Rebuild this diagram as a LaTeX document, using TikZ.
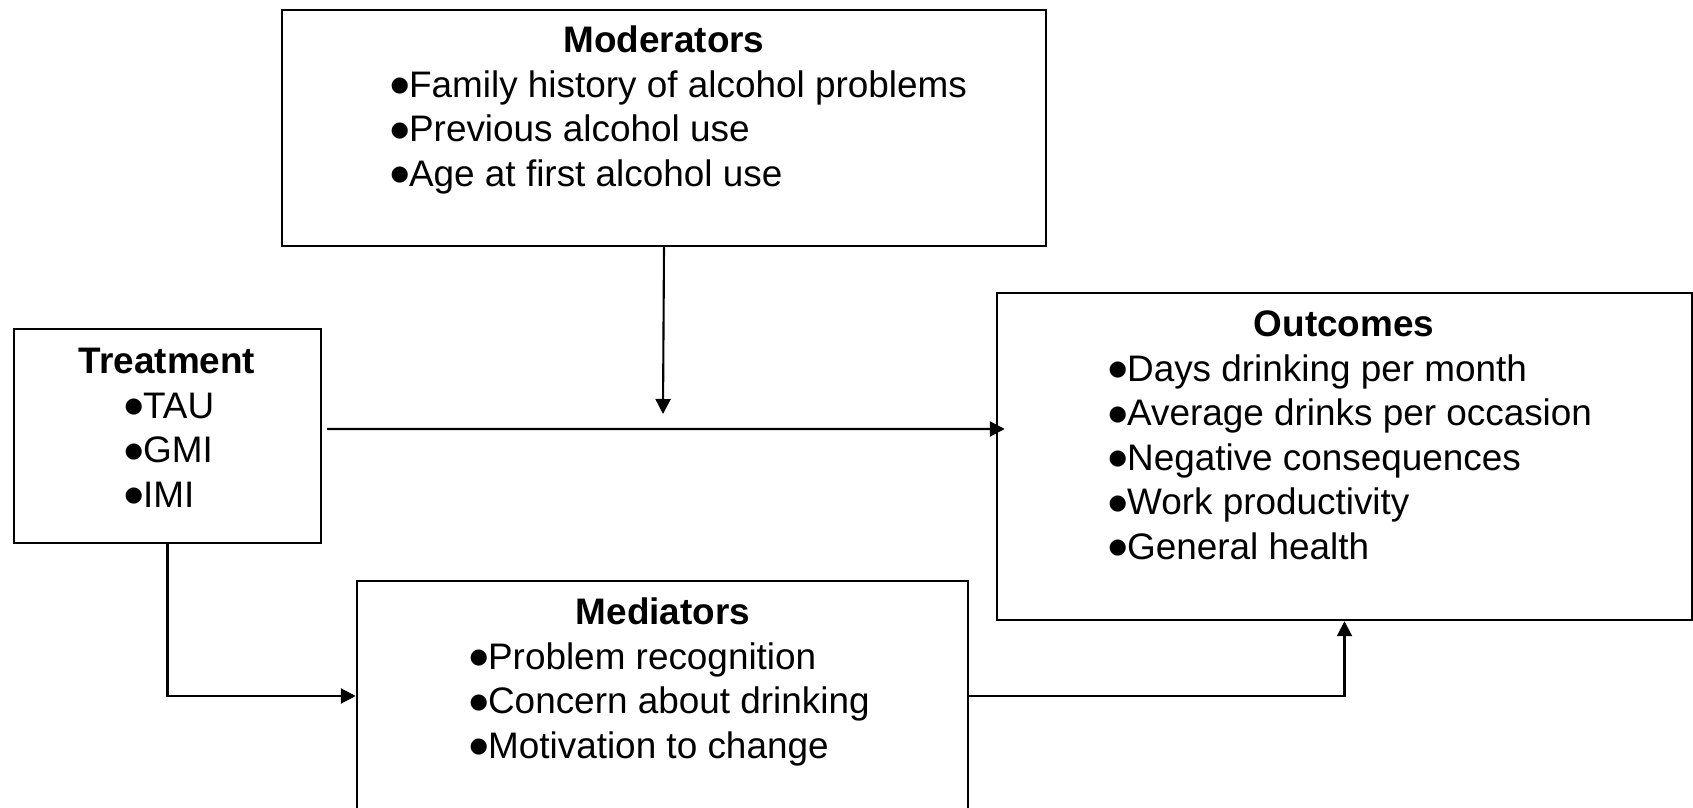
\documentclass[tikz,border=0pt]{standalone}
\usepackage{fontspec}
\setmainfont{Liberation Sans}
\newfontfamily\dotfont{DejaVu Sans}
\usepackage{tikz}
\usetikzlibrary{arrows.meta,calc}
\newcommand{\bul}{\raisebox{1.7pt}{\fontsize{6}{6}\dotfont ●}}
\tikzset{box/.style={draw, line width=0.7pt, inner sep=0pt}}
\tikzset{heading/.style={anchor=base, inner sep=0pt, font=\fontsize{10.5}{12.6}\selectfont\bfseries}}
\tikzset{item/.style={anchor=base west, inner sep=0pt, font=\fontsize{10.5}{12.6}\selectfont}}
\tikzset{arc/.style={line width=0.6pt, -{Triangle[length=0.15cm, width=0.15cm]}}}

\begin{document}
\begin{tikzpicture}
\useasboundingbox (0,0) rectangle (16.93,8.08);
%boxes
\node (mod) at (6.64,6.80)[box, minimum width=7.64cm, minimum height=2.36cm]{};
\node (trt) at (1.675,3.72)[box, minimum width=3.07cm, minimum height=2.14cm]{};
\node (out) at (13.445,3.515)[box, minimum width=6.95cm, minimum height=3.27cm]{};
\node (med) at (6.625,1.12)[box, minimum width=6.11cm, minimum height=2.30cm]{};

%moderators
\node (modh) at (6.64,7.55)[heading]{Moderators};
\node (mod1) at (3.90,7.105)[item]{\bul Family history of alcohol problems};
\node (mod2) at (3.90,6.66)[item]{\bul Previous alcohol use};
\node (mod3) at (3.90,6.215)[item]{\bul Age at first alcohol use};

%treatment
\node (trth) at (1.67,4.34)[heading]{Treatment};
\node (trt1) at (1.24,3.895)[item]{\bul TAU};
\node (trt2) at (1.24,3.45)[item]{\bul GMI};
\node (trt3) at (1.24,3.005)[item]{\bul IMI};

%outcomes
\node (outh) at (13.44,4.71)[heading]{Outcomes};
\node (out1) at (11.08,4.265)[item]{\bul Days drinking per month};
\node (out2) at (11.08,3.82)[item]{\bul Average drinks per occasion};
\node (out3) at (11.08,3.375)[item]{\bul Negative consequences};
\node (out4) at (11.08,2.93)[item]{\bul Work productivity};
\node (out5) at (11.08,2.485)[item]{\bul General health};

%mediators
\node (medh) at (6.63,1.83)[heading]{Mediators};
\node (med1) at (4.69,1.385)[item]{\bul Problem recognition};
\node (med2) at (4.69,0.94)[item]{\bul Concern about drinking};
\node (med3) at (4.69,0.495)[item]{\bul Motivation to change};

%paths
\coordinate (modtip) at (6.63,3.94);
\draw[arc] (mod.south)--(modtip);
\draw[arc] ($(trt.east)+(0.05,0.07)$)--($(out.west)+(0.09,0.275)$);
\draw[arc] (trt.south)|-(med.west);
\draw[arc] (med.east)-|(out.south);

\end{tikzpicture}
\end{document}
